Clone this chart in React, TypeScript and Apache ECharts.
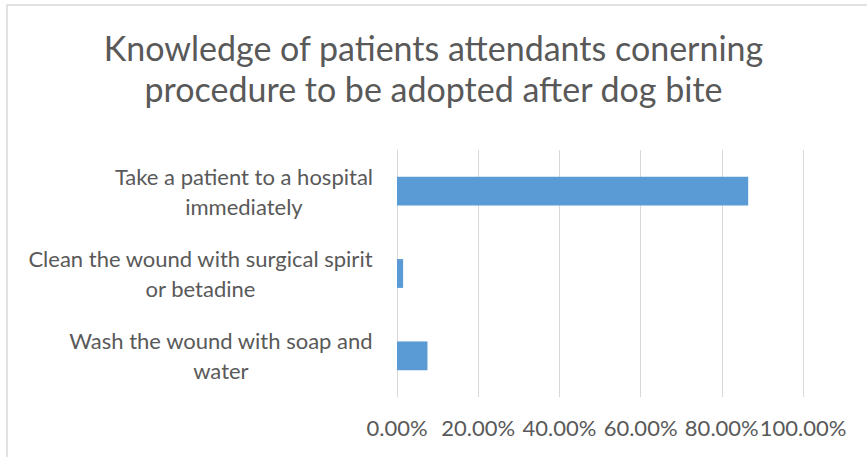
import React, { useEffect, useRef } from "react";
import * as echarts from "echarts";

const titleText = "Knowledge of patients attendants conerning\nprocedure to be adopted after dog bite";
const categories = [
  ["Take a patient to a hospital", "immediately"],
  ["Clean the wound with surgical spirit", "or betadine"],
  ["Wash the wound with soap and", "water"],
];
const values = [86.5, 1.5, 7.5];
const xTicks = { min: 0, max: 100, interval: 20 };

const FONT = "Lato";
const TEXT_COLOR = "#595959";
const GRID_COLOR = "#D9D9D9";
const BAR_COLOR = "#5B9BD5";

export default function App() {
  const ref = useRef<HTMLDivElement>(null);
  useEffect(() => {
    if (!ref.current) return;
    const chart = echarts.init(ref.current, null, { renderer: "svg" });
    const names = categories.map((c) => c.join(" "));
    chart.setOption({
      animation: false,
      backgroundColor: "#ffffff",
      title: {
        text: titleText,
        left: "center",
        top: 27,
        padding: 0,
        textStyle: {
          fontFamily: FONT,
          fontSize: 34,
          fontWeight: "normal",
          color: TEXT_COLOR,
          lineHeight: 41,
        },
      },
      graphic: [
        {
          type: "rect",
          shape: { x: 7, y: 5, width: 900, height: 500 },
          style: { fill: "none", stroke: GRID_COLOR, lineWidth: 1.5 },
          silent: true,
        },
      ],
      grid: { left: 397, right: 64, top: 150, bottom: 60, containLabel: false },
      xAxis: {
        type: "value",
        min: xTicks.min,
        max: xTicks.max,
        interval: xTicks.interval,
        axisLine: { show: false },
        axisTick: { show: false },
        splitLine: { show: true, lineStyle: { color: GRID_COLOR, width: 1 } },
        axisLabel: {
          fontFamily: FONT,
          fontSize: 22,
          color: TEXT_COLOR,
          margin: 19,
          formatter: (v: number) => v.toFixed(2) + "%",
        },
      },
      yAxis: {
        type: "category",
        inverse: true,
        data: names,
        axisLine: { show: true, lineStyle: { color: GRID_COLOR, width: 1 } },
        axisTick: { show: false },
        axisLabel: {
          margin: 24,
          fontFamily: FONT,
          fontSize: 22,
          color: TEXT_COLOR,
          lineHeight: 30,
          formatter: (_v: string, idx: number) =>
            categories[idx].map((l) => `{c|${l}}`).join("\n"),
          rich: {
            c: {
              align: "center",
              fontFamily: FONT,
              fontSize: 22,
              color: TEXT_COLOR,
              lineHeight: 30,
            },
          },
        },
      },
      series: [
        {
          type: "bar",
          data: values,
          barCategoryGap: "65%",
          itemStyle: { color: BAR_COLOR },
        },
      ],
    });
    return () => chart.dispose();
  }, []);
  return (
    <div
      ref={ref}
      style={{ position: "fixed", left: 0, top: 0, width: 867, height: 457 }}
    />
  );
}
